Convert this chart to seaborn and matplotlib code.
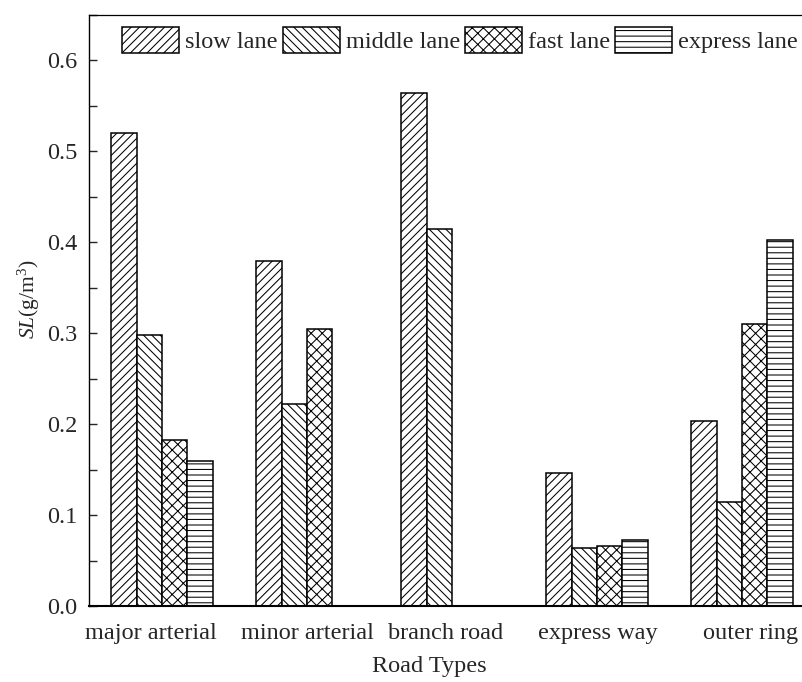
import matplotlib
matplotlib.use("Agg")
import matplotlib.pyplot as plt
import matplotlib.transforms as mtransforms
from matplotlib.ticker import MultipleLocator
import numpy as np
import pandas as pd
import seaborn as sns

# ---- data -------------------------------------------------------------
road_types = ["major arterial", "minor arterial", "branch road", "express way", "outer ring"]
lanes = ["slow lane", "middle lane", "fast lane", "express lane"]

slow_lane = [0.520, 0.379, 0.564, 0.146, 0.204]
middle_lane = [0.298, 0.222, 0.415, 0.064, 0.114]
fast_lane = [0.183, 0.305, np.nan, 0.066, 0.310]
express_lane = [0.160, np.nan, np.nan, 0.073, 0.402]

y_ticks = [0.0, 0.1, 0.2, 0.3, 0.4, 0.5, 0.6]

# ---- long-form table ----------------------------------------------------
series = {"slow lane": slow_lane, "middle lane": middle_lane,
          "fast lane": fast_lane, "express lane": express_lane}
rows = []
for lane in lanes:
    for road, val in zip(road_types, series[lane]):
        rows.append({"road": road, "lane": lane, "SL": val})
df = pd.DataFrame(rows).dropna()

# ---- style ------------------------------------------------------------
sns.set_style("white")
plt.rcParams["font.family"] = ["Liberation Serif", "DejaVu Serif"]
plt.rcParams["mathtext.fontset"] = "custom"
plt.rcParams["mathtext.rm"] = "Liberation Serif"
plt.rcParams["mathtext.it"] = "Liberation Serif:italic"
plt.rcParams["hatch.linewidth"] = 0.75
plt.rcParams["hatch.color"] = "black"

FS = 17.5       # tick labels, x title, legend
FS_YLAB = 15.5  # y title
hatches = ["////", "\\\\\\\\", "xxx", "---"]

fig = plt.figure(figsize=(8.03, 6.82), dpi=100)
W, H = 803, 682
ax_left, ax_right, ax_top, ax_bottom = 89, 814.5, 15, 606
ax = fig.add_axes([ax_left / W, 1 - ax_bottom / H,
                   (ax_right - ax_left) / W, (ax_bottom - ax_top) / H])

sns.barplot(data=df, x="road", y="SL", hue="lane", order=road_types,
            hue_order=lanes, palette=["white"] * 4, width=0.70,
            edgecolor="black", linewidth=1.1, errorbar=None,
            legend=False, ax=ax, saturation=1)

for cont, h in zip(ax.containers, hatches):
    for p in cont.patches:
        p.set_hatch(h)
        p.set_facecolor("white")
        p.set_edgecolor("black")

# ---- axes ---------------------------------------------------------------
ax.set_xlim(-0.503, 4.5)
ax.set_ylim(0, 0.65)
ax.set_yticks(y_ticks)
ax.set_yticklabels([f"{t:.1f}" for t in y_ticks])
ax.yaxis.set_minor_locator(MultipleLocator(0.05))
ax.tick_params(axis="y", which="both", direction="in", length=6, width=1.0,
               labelsize=FS, pad=8.3, left=True)
ax.tick_params(axis="x", which="both", length=0, labelsize=FS, pad=12.5)

for name, lw in [("left", 1.0), ("bottom", 1.5), ("top", 0.9)]:
    ax.spines[name].set_visible(True)
    ax.spines[name].set_linewidth(lw)
    ax.spines[name].set_color("black")
ax.spines["right"].set_visible(False)

# small horizontal nudges of the category names (pixels)
label_shift = {"major arterial": -11, "minor arterial": 0, "branch road": -6,
               "express way": 1, "outer ring": 9}
for lbl in ax.get_xticklabels():
    dx = label_shift.get(lbl.get_text(), 0)
    lbl.set_transform(lbl.get_transform() +
                      mtransforms.ScaledTranslation(dx / 100, 0, fig.dpi_scale_trans))

ax.set_xlabel("Road Types", fontsize=FS)
ax.xaxis.set_label_coords((429 - ax_left) / (ax_right - ax_left), -0.084)
ax.set_ylabel(r"$\mathit{SL}$(g/m$^3$)", fontsize=FS_YLAB)
ax.yaxis.set_label_coords((42 - ax_left) / (ax_right - ax_left), 0.52)

ax.legend(handles=list(ax.containers), labels=lanes, loc="upper left",
          bbox_to_anchor=((122 - ax_left) / (ax_right - ax_left), 0.979),
          ncol=4, frameon=False, fontsize=FS, handlelength=2.35,
          handleheight=1.25, handletextpad=0.25, columnspacing=0.2,
          borderpad=0, borderaxespad=0)

fig.savefig("out.png", dpi=100)
